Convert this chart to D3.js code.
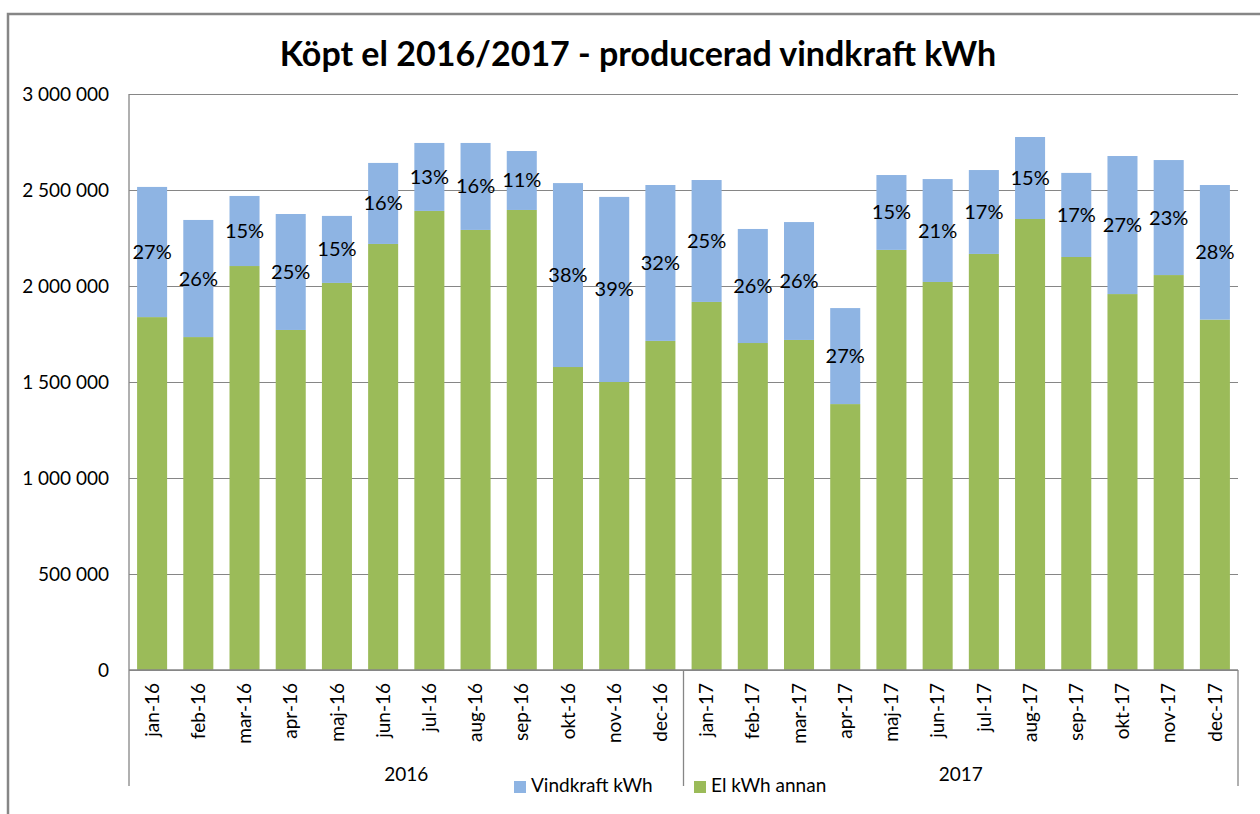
<!DOCTYPE html>
<html>
<head>
<meta charset="utf-8">
<script src="https://cdn.jsdelivr.net/npm/d3@7"></script>
<style>
  body { margin: 0; background: #fff; }
  svg { display: block; font-family: Lato, "Open Sans", sans-serif; }
</style>
</head>
<body>
<div id="chart"></div>
<script>
// Months on the category axis
const categories = ["jan-16", "feb-16", "mar-16", "apr-16", "maj-16", "jun-16", "jul-16", "aug-16", "sep-16", "okt-16", "nov-16", "dec-16",
                    "jan-17", "feb-17", "mar-17", "apr-17", "maj-17", "jun-17", "jul-17", "aug-17", "sep-17", "okt-17", "nov-17", "dec-17"];
const years = ["2016", "2017"];

// El kWh annan (bottom, green)
const elAnnan = [1838000, 1734000, 2104000, 1771000, 2016000, 2219000, 2391000, 2292000, 2396000, 1578000, 1500000, 1714000,
                 1917000, 1703000, 1719000, 1385000, 2188000, 2021000, 2167000, 2349000, 2151000, 1958000, 2057000, 1825000];
// Vindkraft kWh (top, blue)
const vindkraft = [678000, 610000, 365000, 604000, 349000, 422000, 354000, 453000, 307000, 958000, 964000, 812000,
                   635000, 594000, 614000, 500000, 390000, 536000, 437000, 427000, 438000, 719000, 599000, 701000];
// Labels shown inside the blue segments
const pctLabels = ["27%", "26%", "15%", "25%", "15%", "16%", "13%", "16%", "11%", "38%", "39%", "32%",
                   "25%", "26%", "26%", "27%", "15%", "21%", "17%", "15%", "17%", "27%", "23%", "28%"];
const yTicks = [0, 500000, 1000000, 1500000, 2000000, 2500000, 3000000];

const width = 1260, height = 814;
const plot = { left: 129, right: 1238, top: 94, bottom: 670 };
const gray = "#868686";

const svg = d3.select("#chart").append("svg")
    .attr("width", width)
    .attr("height", height);

// chart border (runs off the right and bottom of the picture)
svg.append("rect")
    .attr("x", 8).attr("y", 14)
    .attr("width", 1300).attr("height", 900)
    .style("fill", "none")
    .style("stroke", gray)
    .style("stroke-width", 2.5);

svg.append("text")
    .attr("x", 638).attr("y", 66)
    .attr("text-anchor", "middle")
    .style("font-size", "34px")
    .style("font-weight", "bold")
    .style("fill", "#000")
    .text("Köpt el 2016/2017 - producerad vindkraft kWh");

const x = d3.scaleBand()
    .domain(categories)
    .range([plot.left, plot.right])
    .paddingInner(0.35)
    .paddingOuter(0.175);

const y = d3.scaleLinear()
    .domain([0, 3000000])
    .range([plot.bottom, plot.top]);

const sv = d3.formatLocale({ decimal: ",", thousands: "\u2009", grouping: [3], currency: ["", ""] });
const fmt = sv.format(",d");

// gridlines + y labels
const yAxis = d3.axisLeft(y)
    .tickValues(yTicks)
    .tickSize(-(plot.right - plot.left))
    .tickPadding(20)
    .tickFormat(d => fmt(d).replace(/\u2009/g, " "));

const gy = svg.append("g")
    .attr("transform", `translate(${plot.left},0)`)
    .call(yAxis);
gy.select(".domain").remove();
gy.selectAll(".tick line").style("stroke", gray).style("stroke-width", 1);
gy.selectAll(".tick text")
    .style("font-family", "Lato")
    .style("font-size", "19px")
    .style("fill", "#000");

// stacked bars
const rows = categories.map((c, i) => ({ cat: c, el: elAnnan[i], vind: vindkraft[i], pct: pctLabels[i] }));
const stack = d3.stack().keys(["el", "vind"])(rows);
const colors = { el: "#9BBB59", vind: "#8EB4E3" };

svg.append("g")
    .selectAll("g")
    .data(stack)
    .join("g")
    .style("fill", d => colors[d.key])
    .selectAll("rect")
    .data(d => d)
    .join("rect")
    .attr("x", d => x(d.data.cat))
    .attr("width", x.bandwidth())
    .attr("y", d => y(d[1]))
    .attr("height", d => y(d[0]) - y(d[1]));

// percentage labels, centred in the blue segment
const vindLayer = stack[1];
svg.append("g")
    .selectAll("text")
    .data(vindLayer)
    .join("text")
    .attr("x", d => x(d.data.cat) + x.bandwidth() / 2)
    .attr("y", d => (y(d[0]) + y(d[1])) / 2)
    .attr("dy", "0.35em")
    .attr("text-anchor", "middle")
    .style("font-size", "20px")
    .style("fill", "#000")
    .text(d => d.data.pct);

// axis lines
const axisG = svg.append("g").style("stroke", gray).style("stroke-width", 1.3);
axisG.append("line")
    .attr("x1", plot.left).attr("x2", plot.right)
    .attr("y1", plot.bottom).attr("y2", plot.bottom);
axisG.append("line")
    .attr("x1", plot.left).attr("x2", plot.left)
    .attr("y1", plot.top).attr("y2", 786);
const splitX = (x("dec-16") + x.bandwidth() + x("jan-17")) / 2;
[splitX, plot.right].forEach(px => {
    axisG.append("line")
        .attr("x1", px).attr("x2", px)
        .attr("y1", plot.bottom).attr("y2", 786);
});

// month labels, rotated
svg.append("g")
    .selectAll("text")
    .data(categories)
    .join("text")
    .attr("transform", d => `translate(${x(d) + x.bandwidth() / 2},${plot.bottom + 13}) rotate(-90)`)
    .attr("text-anchor", "end")
    .attr("dy", "0.35em")
    .style("font-size", "19px")
    .style("fill", "#000")
    .text(d => d);

// year labels
const yearSpans = [[plot.left, splitX], [splitX, plot.right]];
svg.append("g")
    .selectAll("text")
    .data(years)
    .join("text")
    .attr("x", (d, i) => (yearSpans[i][0] + yearSpans[i][1]) / 2)
    .attr("y", 781)
    .attr("text-anchor", "middle")
    .style("font-size", "19px")
    .style("fill", "#000")
    .text(d => d);

// legend, cut slightly at the bottom as in the original
svg.append("clipPath").attr("id", "legclip")
    .append("rect").attr("x", 0).attr("y", 0).attr("width", width).attr("height", 795);

const legendData = [
    { label: "Vindkraft kWh", color: colors.vind, x: 514 },
    { label: "El kWh annan", color: colors.el, x: 694 }
];
const leg = svg.append("g").attr("clip-path", "url(#legclip)")
    .selectAll("g")
    .data(legendData)
    .join("g")
    .attr("transform", d => `translate(${d.x},0)`);
leg.append("rect")
    .attr("y", 781).attr("width", 12).attr("height", 12)
    .style("fill", d => d.color);
leg.append("text")
    .attr("x", 17).attr("y", 792)
    .style("font-size", "19px")
    .style("fill", "#000")
    .text(d => d.label);
</script>
</body>
</html>
